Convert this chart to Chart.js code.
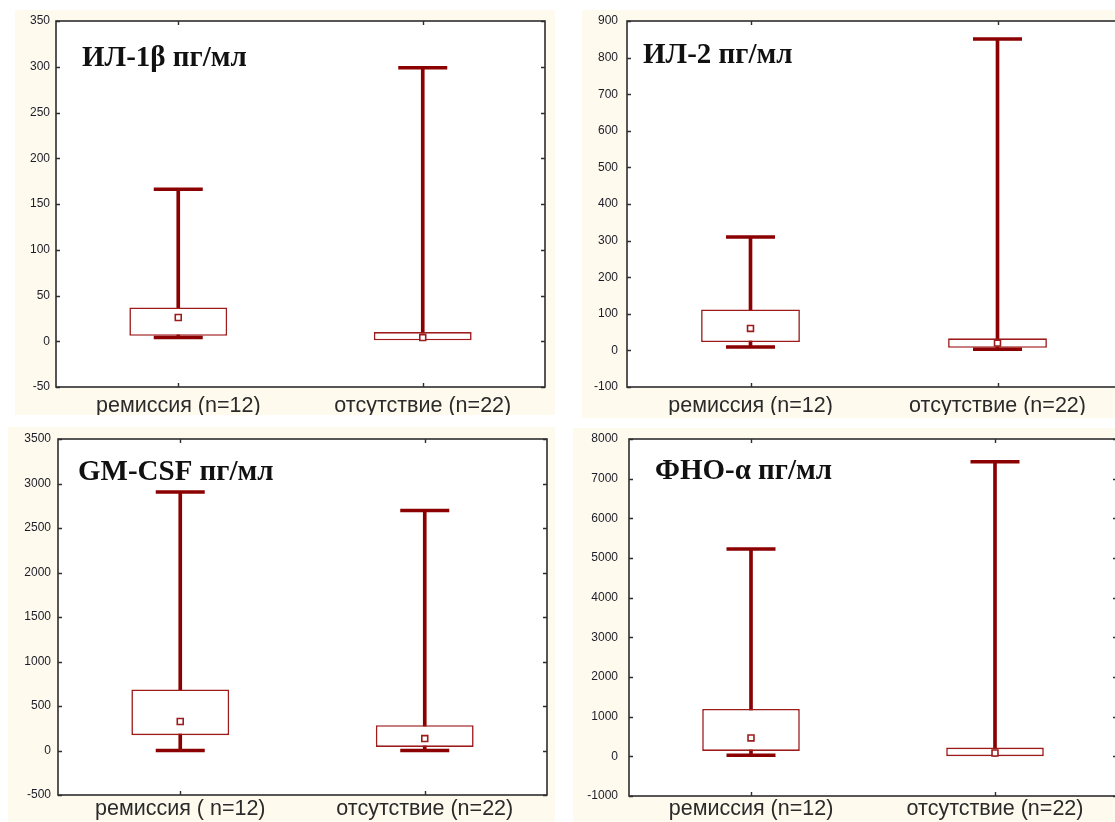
<!DOCTYPE html>
<html lang="ru">
<head>
<meta charset="utf-8">
<title>Цитокины: ремиссия / отсутствие</title>
<script src="https://cdn.jsdelivr.net/npm/chart.js@4.4.1/dist/chart.umd.min.js"></script>
<style>
    html, body {
        margin: 0;
        padding: 0;
        background: #fff;
    }
    body {
        position: relative;
        width: 1115px;
        height: 822px;
        overflow: hidden;
    }
    .panel {
        position: absolute;
        background: #fefaee;
    }
    .panel canvas {
        display: block;
    }
</style>
</head>
<body>

<div class="panel" style="left:15px; top:10px; width:540px; height:405px;">
    <canvas id="chartIl1b" width="540" height="405"></canvas>
</div>
<div class="panel" style="left:582px; top:10px; width:552px; height:408px;">
    <canvas id="chartIl2" width="552" height="405"></canvas>
</div>
<div class="panel" style="left:8px; top:427px; width:547px; height:395px;">
    <canvas id="chartGmcsf" width="547" height="395"></canvas>
</div>
<div class="panel" style="left:573px; top:428px; width:560px; height:394px;">
    <canvas id="chartTnf" width="560" height="394"></canvas>
</div>

<script>
// Groups
const categories = ["ремиссия (n=12)", "отсутствие (n=22)"];
const categoriesGm = ["ремиссия ( n=12)", "отсутствие (n=22)"];

// ИЛ-1β, пг/мл
const il1bMin = [4, 1];
const il1bQ1 = [6, 1];
const il1bMedian = [26, 4];
const il1bQ3 = [37, 10];
const il1bMax = [166, 299];
const il1bTicks = [-50, 350, 50];

// ИЛ-2, пг/мл
const il2Min = [9, 3];
const il2Q1 = [23, 7];
const il2Median = [60, 20];
const il2Q3 = [112, 33];
const il2Max = [310, 851];
const il2Ticks = [-100, 900, 100];

// GM-CSF, пг/мл
const gmMin = [0, 0];
const gmQ1 = [172, 40];
const gmMedian = [326, 134];
const gmQ3 = [686, 284];
const gmMax = [2905, 2697];
const gmTicks = [-500, 3500, 500];

// ФНО-α, пг/мл
const tnfMin = [26, 5];
const tnfQ1 = [136, 5];
const tnfMedian = [464, 85];
const tnfQ3 = [1195, 220];
const tnfMax = [5224, 7428];
const tnfTicks = [-1000, 8000, 1000];

const RED = "#8b0000";
const RED_BOX = "#9e1b1b";
const AXIS = "#2e2e2e";

// white plot area, frame and inward tick marks on all four sides
const framePlugin = {
    id: "frame",
    beforeDatasetsDraw(chart) {
        const { ctx, chartArea: a, scales: { x, y } } = chart;
        const tick = 4;
        ctx.save();
        ctx.fillStyle = "#fff";
        ctx.fillRect(a.left, a.top, a.right - a.left, a.bottom - a.top);
        ctx.strokeStyle = AXIS;
        ctx.lineWidth = 1.6;
        ctx.strokeRect(a.left, a.top, a.right - a.left, a.bottom - a.top);
        ctx.lineWidth = 1.4;
        ctx.beginPath();
        y.ticks.forEach((t) => {
            const py = Math.round(y.getPixelForValue(t.value)) + 0.5;
            ctx.moveTo(a.left, py);
            ctx.lineTo(a.left + tick, py);
            ctx.moveTo(a.right - tick, py);
            ctx.lineTo(a.right, py);
        });
        x.ticks.forEach((t, i) => {
            const px = Math.round(x.getPixelForTick(i)) + 0.5;
            ctx.moveTo(px, a.top);
            ctx.lineTo(px, a.top + tick);
            ctx.moveTo(px, a.bottom - tick);
            ctx.lineTo(px, a.bottom);
        });
        ctx.stroke();
        ctx.restore();
    },
};

// bold serif caption inside the plot area
const captionPlugin = {
    id: "caption",
    afterDraw(chart, args, opts) {
        const { ctx, chartArea: a } = chart;
        ctx.save();
        ctx.font = "bold 29px 'Liberation Serif', 'Times New Roman', serif";
        ctx.fillStyle = "#111";
        ctx.textAlign = "left";
        ctx.textBaseline = "alphabetic";
        ctx.fillText(opts.text, a.left + opts.dx, a.top + opts.dy);
        ctx.restore();
    },
};

function makeBoxChart(id, p) {
    // no bottom cap where the whisker collapses into the box edge
    const capLow = p.min.map((v, i) => (v < p.q1[i] ? v : null));

    new Chart(document.getElementById(id), {
        type: "bar",
        data: {
            labels: p.labels,
            datasets: [
                {
                    type: "line",
                    label: "median",
                    data: p.median,
                    showLine: false,
                    pointStyle: "rect",
                    pointRadius: 4.2,
                    pointBackgroundColor: "#fff",
                    pointBorderColor: RED_BOX,
                    pointBorderWidth: 1.6,
                    order: 0,
                },
                {
                    type: "line",
                    label: "max",
                    data: p.max,
                    showLine: false,
                    pointStyle: "line",
                    pointRadius: 24.5,
                    pointBorderColor: RED,
                    pointBorderWidth: 3.5,
                    order: 1,
                },
                {
                    type: "line",
                    label: "min",
                    data: capLow,
                    showLine: false,
                    pointStyle: "line",
                    pointRadius: 24.5,
                    pointBorderColor: RED,
                    pointBorderWidth: 3.5,
                    order: 1,
                },
                {
                    label: "box",
                    data: p.q1.map((v, i) => [v, p.q3[i]]),
                    backgroundColor: "#fff",
                    borderColor: RED_BOX,
                    borderWidth: 1.6,
                    borderSkipped: false,
                    barPercentage: 0.4,
                    categoryPercentage: 1,
                    grouped: false,
                    order: 2,
                },
                {
                    label: "whisker",
                    data: p.min.map((v, i) => [v, p.max[i]]),
                    backgroundColor: RED,
                    barThickness: 3,
                    grouped: false,
                    order: 3,
                },
            ],
        },
        options: {
            responsive: false,
            animation: false,
            devicePixelRatio: 1,
            layout: { padding: p.padding, autoPadding: false },
            plugins: {
                legend: { display: false },
                tooltip: { enabled: false },
                caption: { text: p.title, dx: p.titleDx, dy: p.titleDy },
            },
            scales: {
                x: {
                    grid: { display: false, drawTicks: false },
                    border: { display: false },
                    ticks: {
                        padding: p.labelPad,
                        color: "#2a2a2a",
                        font: { family: "'Liberation Sans', Arial, sans-serif", size: 21.5, lineHeight: 1 },
                    },
                    afterFit: (scale) => {
                        scale.height = p.xHeight;
                        scale.paddingLeft = 0;
                        scale.paddingRight = 0;
                    },
                },
                y: {
                    min: p.ticks[0],
                    max: p.ticks[1],
                    grid: { display: false, drawTicks: false },
                    border: { display: false },
                    ticks: {
                        stepSize: p.ticks[2],
                        padding: p.tickPad,
                        color: "#1c1c28",
                        font: { family: "'Liberation Sans', Arial, sans-serif", size: 12 },
                        callback: (v) => String(v),
                    },
                    afterFit: (scale) => {
                        scale.width = p.yWidth;
                        scale.paddingTop = 0;
                        scale.paddingBottom = 0;
                    },
                },
            },
        },
        plugins: [framePlugin, captionPlugin],
    });
}

makeBoxChart("chartIl1b", {
    labels: categories,
    min: il1bMin, q1: il1bQ1, median: il1bMedian, q3: il1bQ3, max: il1bMax,
    ticks: il1bTicks,
    title: "ИЛ-1β пг/мл", titleDx: 26, titleDy: 45,
    padding: { left: 0, top: 11, right: 10, bottom: 0 },
    yWidth: 41, tickPad: 6, xHeight: 28, labelPad: 8,
});

makeBoxChart("chartIl2", {
    labels: categories,
    min: il2Min, q1: il2Q1, median: il2Median, q3: il2Q3, max: il2Max,
    ticks: il2Ticks,
    title: "ИЛ-2 пг/мл", titleDx: 16, titleDy: 42,
    padding: { left: 0, top: 11, right: 13, bottom: 0 },
    yWidth: 45, tickPad: 9, xHeight: 28, labelPad: 8,
});

makeBoxChart("chartGmcsf", {
    labels: categoriesGm,
    min: gmMin, q1: gmQ1, median: gmMedian, q3: gmQ3, max: gmMax,
    ticks: gmTicks,
    title: "GM-CSF пг/мл", titleDx: 20, titleDy: 41,
    padding: { left: 0, top: 12, right: 8, bottom: 0 },
    yWidth: 50, tickPad: 7, xHeight: 27, labelPad: 3,
});

makeBoxChart("chartTnf", {
    labels: categories,
    min: tnfMin, q1: tnfQ1, median: tnfMedian, q3: tnfQ3, max: tnfMax,
    ticks: tnfTicks,
    title: "ФНО-α пг/мл", titleDx: 26, titleDy: 40,
    padding: { left: 0, top: 11, right: 16, bottom: 0 },
    yWidth: 56, tickPad: 11, xHeight: 26, labelPad: 2,
});
</script>
</body>
</html>
